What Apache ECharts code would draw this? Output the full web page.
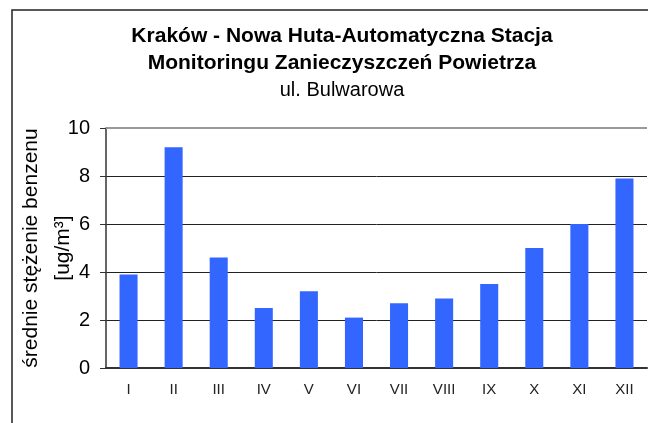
<!DOCTYPE html>
<html>
<head>
<meta charset="utf-8">
<script src="https://cdn.jsdelivr.net/npm/echarts@6/dist/echarts.min.js"></script>
<style>
  html, body { margin: 0; padding: 0; background: #fff; }
  #chart { width: 648px; height: 423px; }
</style>
</head>
<body>
<div id="chart"></div>
<script>
var months = ['I', 'II', 'III', 'IV', 'V', 'VI', 'VII', 'VIII', 'IX', 'X', 'XI', 'XII'];
var benzene = [3.9, 9.2, 4.6, 2.5, 3.2, 2.1, 2.7, 2.9, 3.5, 5.0, 6.0, 7.9];
var yTicks = [0, 2, 4, 6, 8, 10];

var myChart = echarts.init(document.getElementById('chart'));
var font = '"Liberation Sans", Arial, sans-serif';

var option = {
    animation: false,
    backgroundColor: '#fff',
    textStyle: { fontFamily: font },
    graphic: [
        {
            // outer frame, cut off at right and bottom edge like in the picture
            type: 'rect',
            shape: { x: 12, y: 10, width: 700, height: 500 },
            style: { fill: 'none', stroke: '#222', lineWidth: 1.5 },
            silent: true
        }
    ],
    title: {
        text: 'Kraków - Nowa Huta-Automatyczna Stacja\nMonitoringu Zanieczyszczeń Powietrza',
        subtext: 'ul. Bulwarowa',
        left: 342,
        textAlign: 'center',
        top: 23,
        padding: 0,
        itemGap: 0,
        textStyle: { fontFamily: font, fontSize: 21, fontWeight: 'bold', color: '#000', lineHeight: 27 },
        subtextStyle: { fontFamily: font, fontSize: 20, color: '#000', lineHeight: 27 }
    },
    grid: {
        left: 106,
        top: 128,
        right: 1,
        bottom: 55,
        outerBoundsMode: 'none',
        containLabel: false
    },
    xAxis: {
        type: 'category',
        data: months,
        axisLine: { lineStyle: { color: '#333', width: 2 } },
        axisTick: { show: false },
        axisLabel: { color: '#222', fontSize: 15, margin: 14, fontFamily: font }
    },
    yAxis: [
        {
            type: 'value',
            min: yTicks[0],
            max: yTicks[yTicks.length - 1],
            interval: 2,
            name: 'średnie stężenie benzenu\n[ug/m³]',
            nameLocation: 'middle',
            nameGap: 27,
            nameMoveOverlap: false,
            nameTextStyle: { fontSize: 21, color: '#000', lineHeight: 32, fontFamily: font },
            axisLine: { show: true, lineStyle: { color: '#333', width: 1.5 } },
            axisTick: { show: true, length: 6, lineStyle: { color: '#333' } },
            axisLabel: { color: '#000', fontSize: 20, margin: 16, fontFamily: font },
            splitLine: { show: true, lineStyle: { color: '#222', width: 1 } }
        }
    ],
    series: [
        {
            name: 'benzen',
            type: 'bar',
            barWidth: '40%',
            data: benzene,
            itemStyle: { color: '#3366FF' }
        },
        {
            // gray top border of the plot area
            type: 'line',
            data: [],
            markLine: {
                silent: true,
                symbol: 'none',
                label: { show: false },
                lineStyle: { color: '#999', width: 2, type: 'solid' },
                data: [{ yAxis: 10 }]
            }
        }
    ]
};
myChart.setOption(option);
</script>
</body>
</html>
